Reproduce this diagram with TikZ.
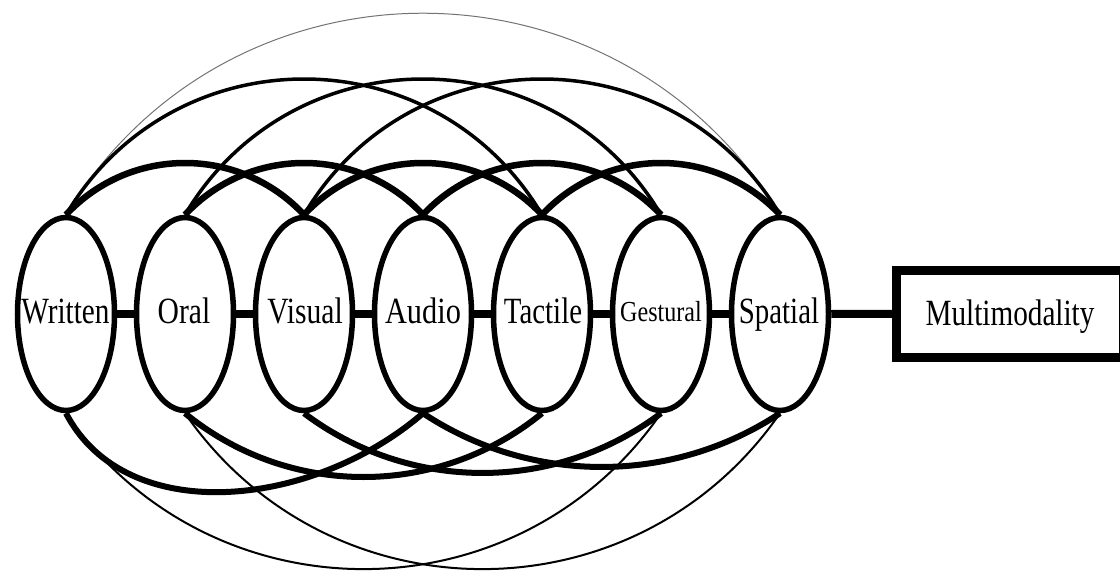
\documentclass[tikz,border=0pt]{standalone}
\usepackage{fontspec}
\setmainfont{Liberation Serif}
\usepackage{graphicx}
\usetikzlibrary{shapes.geometric}
\pgfdeclarelayer{background}
\pgfsetlayers{background,main}
\newcommand{\squash}[2]{\scalebox{#1}[1]{#2}}
\begin{document}
\begin{tikzpicture}[x=1pt,y=-1pt,
  mode/.style={draw, ellipse, line width=5.5pt, fill=white, minimum width=97pt, minimum height=193pt, inner sep=0pt},
  lbl/.style={anchor=base, inner sep=0pt, font=\fontsize{37}{40}\selectfont},
  smalllbl/.style={anchor=base, inner sep=0pt, font=\fontsize{29}{32}\selectfont},
  link/.style={line width=8pt},
  arcA/.style={line width=6.5pt},
  arcB/.style={line width=3.5pt},
  arcC/.style={line width=1pt, draw=black!55},
  arcD/.style={line width=6pt},
  arcE/.style={line width=2pt},
  mmbox/.style={draw, rectangle, line width=9pt, minimum width=227pt, minimum height=87.5pt, inner sep=0pt, text height=25pt, text depth=2.5pt, font=\fontsize{37}{40}\selectfont}
]
\useasboundingbox (0,0) rectangle (1120,573);
\clip (0,0) rectangle (1120,573);

\node[mode] (w) at (66,314) {};
\node[mode] (o) at (185,314) {};
\node[mode] (v) at (304,314) {};
\node[mode] (a) at (423,314) {};
\node[mode] (t) at (542,314) {};
\node[mode] (g) at (661,314) {};
\node[mode] (s) at (780,314) {};

\begin{pgfonlayer}{background}
% top: span 6 (thin gray)
\draw[arcC] (w.north) .. controls +(162.1,-268.7) and +(-162.1,-268.7) .. (s.north);
% top: span 4 (medium)
\draw[arcB] (w.north) .. controls +(107.1,-181) and +(-107.1,-181) .. (t.north);
\draw[arcB] (o.north) .. controls +(107.1,-181) and +(-107.1,-181) .. (g.north);
\draw[arcB] (v.north) .. controls +(107.1,-181) and +(-107.1,-181) .. (s.north);
% top: span 2 (thick)
\draw[arcA] (w.north) .. controls +(64.3,-69) and +(-64.3,-69) .. (v.north);
\draw[arcA] (o.north) .. controls +(64.3,-69) and +(-64.3,-69) .. (a.north);
\draw[arcA] (v.north) .. controls +(64.3,-69) and +(-64.3,-69) .. (t.north);
\draw[arcA] (a.north) .. controls +(64.3,-69) and +(-64.3,-69) .. (g.north);
\draw[arcA] (t.north) .. controls +(64.3,-69) and +(-64.3,-69) .. (s.north);
% bottom: span 5 (thin)
\draw[arcE] (w.south) .. controls +(143.9,207.8) and +(-143.9,207.8) .. (g.south);
\draw[arcE] (o.south) .. controls +(143.9,207.8) and +(-143.9,207.8) .. (s.south);
% bottom: span 3 (thick)
\draw[arcD] (w.south) .. controls +(60,115) and +(-110,95) .. (a.south);
\draw[arcD] (o.south) .. controls +(103.8,85) and +(-103.8,85) .. (t.south);
\draw[arcD] (v.south) .. controls +(105.7,79.6) and +(-105.7,79.6) .. (g.south);
\draw[arcD] (a.south) .. controls +(108.2,71.6) and +(-108.2,71.6) .. (s.south);
\end{pgfonlayer}

\node[mmbox] (mm) at (1010,313.75) {\squash{0.79}{Multimodality}};

\draw[link] (w.east) -- (o.west);
\draw[link] (o.east) -- (v.west);
\draw[link] (v.east) -- (a.west);
\draw[link] (a.east) -- (t.west);
\draw[link] (t.east) -- (g.west);
\draw[link] (g.east) -- (s.west);
\draw[link] (s.east) -- (mm.west);

\node[lbl] (wl) at (65.5,323) {\squash{0.79}{Written}};
\node[lbl] (ol) at (184,323) {\squash{0.8}{Oral}};
\node[lbl] (vl) at (305,323) {\squash{0.8}{Visual}};
\node[lbl] (al) at (423,323) {\squash{0.82}{Audio}};
\node[lbl] (tl) at (543,323) {\squash{0.78}{Tactile}};
\node[smalllbl] (gl) at (661,321) {\squash{0.83}{Gestural}};
\node[lbl] (sl) at (779,323) {\squash{0.78}{Spatial}};
\end{tikzpicture}
\end{document}
